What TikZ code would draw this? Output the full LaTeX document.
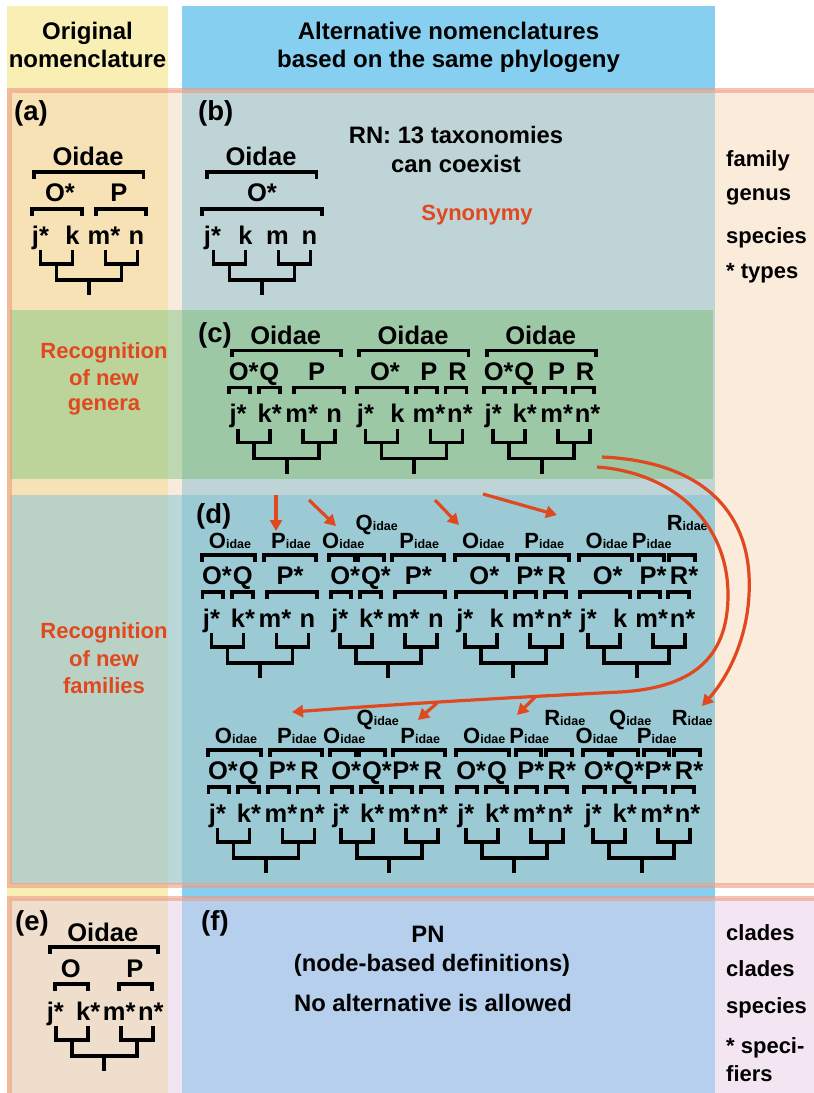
\documentclass[tikz,border=0pt]{standalone}
\usepackage{fontspec}
\setmainfont{Liberation Sans}
\usetikzlibrary{arrows.meta}
\definecolor{hyel}{HTML}{F9EEB4}
\definecolor{hblue}{HTML}{86CFF0}
\definecolor{poneL}{HTML}{F7E2B6}
\definecolor{poneG}{HTML}{F9EBDC}
\definecolor{poneM}{HTML}{BFD4D6}
\definecolor{poneR}{HTML}{FAEBDB}
\definecolor{pcL}{HTML}{BCD39A}
\definecolor{pcG}{HTML}{BDD8B0}
\definecolor{pcM}{HTML}{9DC8A6}
\definecolor{pdL}{HTML}{BAD2C5}
\definecolor{pdG}{HTML}{BAD8DA}
\definecolor{pdM}{HTML}{9BCAD4}
\definecolor{ptwoL}{HTML}{EEDECB}
\definecolor{ptwoG}{HTML}{F1E5F1}
\definecolor{ptwoM}{HTML}{B5CFEC}
\definecolor{ptwoR}{HTML}{F3E5F1}
\definecolor{salm}{HTML}{EE9A80}
\definecolor{redc}{HTML}{E0481F}
\newcommand\fsz[1]{\fontsize{#1}{#1}\selectfont}
\tikzset{
 tr/.style={line width=3.8pt, line join=miter, line cap=butt},
 tl/.style={anchor=base, inner sep=0pt, font=\fsz{25.5}\bfseries},
 fl/.style={anchor=base, inner sep=0pt, font=\bfseries},
 txt/.style={anchor=base, inner sep=0pt, font=\fsz{23.8}\bfseries},
 redtxt/.style={anchor=base, inner sep=0pt, font=\fsz{22}\bfseries, text=redc},
 side/.style={anchor=base west, inner sep=0pt, font=\fsz{22}\bfseries},
 hdr/.style={anchor=base, inner sep=0pt, font=\fsz{24}\bfseries},
 plab/.style={anchor=base west, inner sep=0pt, font=\fsz{27.5}\bfseries},
 rarr/.style={draw=redc, line width=3.2pt, -{Triangle[length=11pt,width=12pt]}},
 border/.style={draw=salm, line width=5pt, opacity=0.6},
}
% cladogram and brackets (inside a shifted scope: root x = 0, leaf baseline y = 0)
\newcommand\clado{%
 \draw[tr] (-48.5,6) |- (-16.5,20) -- (-16.5,6);
 \draw[tr] (16.5,6) |- (48.5,20) -- (48.5,6);
 \draw[tr] (-32.5,20) |- (32.5,36) -- (32.5,20);
 \draw[tr] (0,36) -- (0,51);}
\newcommand\brk[3]{\draw[tr] (#1,#3+6.5) |- (#2,#3) -- (#2,#3+6.5);}
% leaves
\newcommand\tLJ{\node[tl] (lj) at (-53.5,0) {j\rlap{*}};}
\newcommand\tLKs{\node[tl] (lk) at (-22,0) {k\rlap{*}};}
\newcommand\tLK{\node[tl] (lk) at (-16.5,0) {k};}
\newcommand\tLMs{\node[tl] (lm) at (10,0) {m\rlap{*}};}
\newcommand\tLM{\node[tl] (lm) at (15.5,0) {m};}
\newcommand\tLNs{\node[tl] (ln) at (41,0) {n\rlap{*}};}
\newcommand\tLN{\node[tl] (ln) at (47.5,0) {n};}
% genus level
\newcommand\tGO{\brk{-57.5}{-37}{-35}\node[tl] (gO) at (-48,-42.5) {O\rlap{*}};}
\newcommand\tGQ{\brk{-28}{-7}{-35}\node[tl] (gQ) at (-17.3,-42.5) {Q};}
\newcommand\tGQs{\brk{-28}{-7}{-35}\node[tl] (gQ) at (-17.3,-42.5) {Q\rlap{*}};}
\newcommand\tGP{\brk{2}{23}{-35}\node[tl] (gP) at (15,-42.5) {P};}
\newcommand\tGPs{\brk{2}{23}{-35}\node[tl] (gP) at (11.5,-42.5) {P\rlap{*}};}
\newcommand\tGR{\brk{31.5}{52.5}{-35}\node[tl] (gR) at (43.5,-42.5) {R};}
\newcommand\tGRs{\brk{31.5}{52.5}{-35}\node[tl] (gR) at (42.5,-42.5) {R\rlap{*}};}
\newcommand\tGOO{\brk{-57}{-7}{-35}\node[tl] (gO) at (-29,-42.5) {O*};}
\newcommand\tGPP{\brk{7}{57}{-35}\node[tl] (gP) at (30,-42.5) {P};}
\newcommand\tGPPs{\brk{7}{57}{-35}\node[tl] (gP) at (30,-42.5) {P*};}
% family level
\newcommand\flab[4]{\node[fl] (#1) at (#2,#3) {{\fsz{22}#4}{\fsz{12.5}idae}};}
\newcommand\tFJ{\brk{-59}{-33}{-72}\flab{fO}{-45}{-78.5}{O}}
\newcommand\tFK{\brk{-30}{-4}{-72}\flab{fQ}{-11.5}{-97}{Q}}
\newcommand\tFM{\brk{2}{27}{-72}\flab{fP}{15}{-78.5}{P}}
\newcommand\tFN{\brk{32}{58}{-72}\flab{fR}{50.5}{-97}{R}}
\newcommand\tFJK{\brk{-58}{-5}{-72}\flab{fO}{-30}{-78.5}{O}}
\newcommand\tFMN{\brk{4}{56}{-72}\flab{fP}{31}{-78.5}{P}}
\newcommand\tFall{\brk{-55}{54.5}{-72}\node[tl] (fO) at (-1,-78.5) {Oidae};}
\begin{document}
\begin{tikzpicture}[x=1pt,y=-1pt]
\useasboundingbox (0,0) rectangle (814,1093);
\clip (0,0) rectangle (814,1093);
% column strips
\fill[hyel] (7,6) rectangle (168,1093);
\fill[hblue] (182,6) rectangle (715,1093);
% panel 1
\fill[poneL] (10,90) rectangle (168,885);
\fill[poneG] (168,90) rectangle (182,885);
\fill[poneM] (182,90) rectangle (715,885);
\fill[poneR] (715,90) rectangle (814,885);
% row c
\fill[pcL] (10,310) rectangle (168,479);
\fill[pcG] (168,310) rectangle (182,479);
\fill[pcM] (182,310) rectangle (713,479);
% row d
\fill[pdL] (10,495) rectangle (168,884);
\fill[pdG] (168,495) rectangle (182,884);
\fill[pdM] (182,495) rectangle (715,884);
% panel 2
\fill[ptwoL] (10,898) rectangle (168,1093);
\fill[ptwoG] (168,898) rectangle (182,1093);
\fill[ptwoM] (182,898) rectangle (715,1093);
\fill[ptwoR] (715,898) rectangle (814,1093);
% borders
\draw[border] (9.5,90) rectangle (830,885);
\draw[border] (9.5,898) rectangle (830,1110);

% headers
\node[hdr] (h1) at (87.5,39) {Original};
\node[hdr] (h2) at (87.5,67) {nomenclature};
\node[hdr] (h3) at (448.5,39) {Alternative nomenclatures};
\node[hdr] (h4) at (448.5,67) {based on the same phylogeny};

% panel letters
\node[plab] (pa) at (14,120) {(a)};
\node[plab] (pb) at (198,120) {(b)};
\node[plab] (pc) at (198,342) {(c)};
\node[plab] (pd) at (196,523) {(d)};
\node[plab] (pe) at (15,930) {(e)};
\node[plab] (pf) at (201,930) {(f)};

% texts
\node[txt] (rn1) at (456,143) {RN: 13 taxonomies};
\node[txt] (rn2) at (456,172.5) {can coexist};
\node[redtxt] (syn) at (477,220) {Synonymy};
\node[redtxt] (rg1) at (104,358.3) {Recognition};
\node[redtxt] (rg2) at (104,385) {of new};
\node[redtxt] (rg3) at (104,410) {genera};
\node[redtxt] (rf1) at (104,638.3) {Recognition};
\node[redtxt] (rf2) at (104,666) {of new};
\node[redtxt] (rf3) at (104,693.3) {families};
\node[txt] (pn1) at (428,942.7) {PN};
\node[txt] (pn2) at (432,971.7) {(node-based definitions)};
\node[txt] (pn3) at (433,1011.7) {No alternative is allowed};
\node[side] (s1) at (726,166.5) {family};
\node[side] (s2) at (726,200) {genus};
\node[side] (s3) at (726,243.5) {species};
\node[side] (s4) at (726,278) {* types};
\node[side] (s5) at (726,940) {clades};
\node[side] (s6) at (726,976.7) {clades};
\node[side] (s7) at (726,1013) {species};
\node[side] (s8) at (726,1053) {* speci-};
\node[side] (s9) at (726,1081.5) {fiers};

% (a)
\begin{scope}[shift={(89,244)}, name prefix=ta-]
\clado \tFall
\brk{-57}{-7}{-35}\node[tl] (gO) at (-29,-42.5) {O*};
\tGPP
\tLJ\tLK\tLMs\tLN
\end{scope}
% (b)
\begin{scope}[shift={(262,244)}, name prefix=tb-]
\clado \tFall
\brk{-60}{60}{-35}\node[tl] (gO) at (0,-42.5) {O*};
\node[tl] (lj) at (-54.5,0) {j\rlap{*}};
\tLK\tLM\tLN
\end{scope}
% (c)
\begin{scope}[shift={(286.7,422.5)}, name prefix=tc1-]
\clado \tFall \tGO\tGQ\tGPP \tLJ\tLKs\tLMs\tLN
\end{scope}
\begin{scope}[shift={(414,422.5)}, name prefix=tc2-]
\clado \tFall \tGOO\tGP\tGR \tLJ\tLK\tLMs\tLNs
\end{scope}
\begin{scope}[shift={(541.7,422.5)}, name prefix=tc3-]
\clado \tFall \tGO\tGQ\tGP\tGR \tLJ\tLKs\tLMs\tLNs
\end{scope}
% (d) top row
\begin{scope}[shift={(260,627)}, name prefix=td1-]
\clado \tFJK\tFMN \tGO\tGQ\tGPPs \tLJ\tLKs\tLMs\tLN
\end{scope}
\begin{scope}[shift={(388.3,627)}, name prefix=td2-]
\clado \tFJ\tFK\tFMN \tGO\tGQs\tGPPs \tLJ\tLKs\tLMs\tLN
\end{scope}
\begin{scope}[shift={(513.3,627)}, name prefix=td3-]
\clado \tFJK\tFMN \tGOO\tGPs\tGR \tLJ\tLK\tLMs\tLNs
\end{scope}
\begin{scope}[shift={(636.7,627)}, name prefix=td4-]
\clado \tFJK\tFM\tFN \tGOO\tGPs\tGRs \tLJ\tLK\tLMs\tLNs
\end{scope}
% (d) bottom row
\begin{scope}[shift={(266,822)}, name prefix=td5-]
\clado \tFJK\tFMN \tGO\tGQ\tGPs\tGR \tLJ\tLKs\tLMs\tLNs
\end{scope}
\begin{scope}[shift={(389.3,822)}, name prefix=td6-]
\clado \tFJ\tFK\tFMN \tGO\tGQs\tGPs\tGR \tLJ\tLKs\tLMs\tLNs
\end{scope}
\begin{scope}[shift={(514.3,822)}, name prefix=td7-]
\clado \tFJK\tFM\tFN \tGO\tGQ\tGPs\tGRs \tLJ\tLKs\tLMs\tLNs
\end{scope}
\begin{scope}[shift={(641.7,822)}, name prefix=td8-]
\clado \tFJ\tFK\tFM\tFN \tGO\tGQs\tGPs\tGRs \tLJ\tLKs\tLMs\tLNs
\end{scope}
% (e)
\begin{scope}[shift={(104.3,1020)}, name prefix=te-]
\clado
\brk{-54}{54}{-73}\node[tl] (fO) at (-1.5,-79) {Oidae};
\brk{-49}{-16}{-36}\node[tl] (gO) at (-33.6,-43) {O};
\brk{15}{48}{-36}\node[tl] (gP) at (30.7,-43) {P};
\node[tl] (lj) at (-54,0) {j\rlap{*}};
\node[tl] (lk) at (-21,0) {k\rlap{*}};
\node[tl] (lm) at (10,0) {m\rlap{*}};
\node[tl] (ln) at (41.5,0) {n\rlap{*}};
\end{scope}

% red arrows
\coordinate (a1s) at (276,495); \coordinate (a1e) at (276,531);
\coordinate (a2s) at (309,500); \coordinate (a2e) at (336,526);
\coordinate (a3s) at (435,500); \coordinate (a3e) at (459,525);
\coordinate (a4s) at (483,494); \coordinate (a4e) at (557,515);
\draw[rarr] (a1s) -- (a1e);
\draw[rarr] (a2s) -- (a2e);
\draw[rarr] (a3s) -- (a3e);
\draw[rarr] (a4s) -- (a4e);
\coordinate (os) at (602,457); \coordinate (om) at (749,575); \coordinate (oe) at (702,706);
\draw[rarr] (os) .. controls (695,461) and (745,505) .. (om) .. controls (752,630) and (730,675) .. (oe);
\coordinate (is) at (597,467); \coordinate (im) at (728,595); \coordinate (ij) at (620,692); \coordinate (ie) at (292,712);
\draw[rarr] (is) .. controls (670,472) and (728,520) .. (im) .. controls (728,660) and (690,688) .. (ij) .. controls (500,698) and (400,704) .. (ie);
\coordinate (b1s) at (437,703); \coordinate (b1e) at (418,720);
\coordinate (b2s) at (535,697.2); \coordinate (b2e) at (517,715);
\draw[rarr] (b1s) -- (b1e);
\draw[rarr] (b2s) -- (b2e);
\end{tikzpicture}
\end{document}
